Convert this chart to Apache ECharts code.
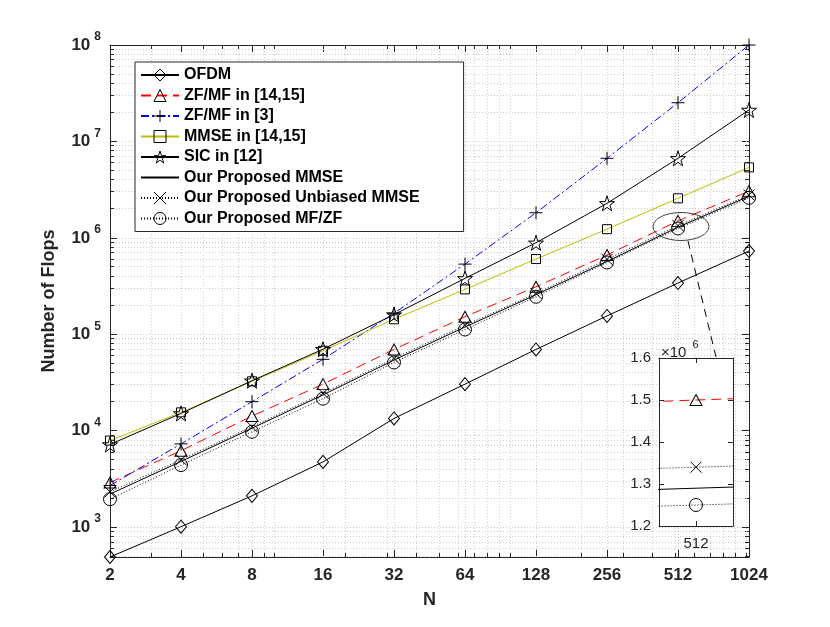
<!DOCTYPE html>
<html>
<head>
<meta charset="utf-8">
<title>Number of Flops</title>
<script src="https://cdn.jsdelivr.net/npm/echarts@6/dist/echarts.min.js"></script>
<style>
html, body { margin: 0; padding: 0; background: #fff; }
#chart { width: 830px; height: 627px; }
</style>
</head>
<body>
<div id="chart"></div>
<script>
// N on the x axis (log2 spaced)
const nValues = [2, 4, 8, 16, 32, 64, 128, 256, 512, 1024];

// flops
const ofdm         = [490, 1010, 2110, 4750, 13400, 30400, 69600, 155000, 340000, 730000];
const zfmf1415     = [2900, 6200, 14200, 30400, 69600, 152000, 311000, 664000, 1500000, 3050000];
const zfmf3        = [2700, 7300, 20000, 55000, 165000, 534000, 1820000, 6680000, 25200000, 100000000];
const mmse1415     = [7900, 15500, 32500, 67500, 143000, 292000, 603000, 1230000, 2570000, 5380000];
const sic12        = [7200, 15100, 33000, 70000, 160000, 380000, 889000, 2280000, 6680000, 21200000];
const ourMmse      = [2200, 4800, 10600, 23500, 54000, 119000, 257000, 570000, 1290000, 2700000];
const ourUnbiased  = [2320, 5000, 11000, 24400, 56200, 124000, 265000, 598000, 1340000, 2780000];
const ourMfzf      = [1950, 4400, 9750, 21500, 51000, 112000, 245000, 555000, 1250000, 2600000];

const legendNames = ['OFDM', 'ZF/MF in [14,15]', 'ZF/MF in [3]', 'MMSE in [14,15]', 'SIC in [12]',
  'Our Proposed MMSE', 'Our Proposed Unbiased MMSE', 'Our Proposed MF/ZF'];

// minor grid positions (matlab log10 minor ticks)
const xMinorTicks = [3, 5, 6, 7, 9, 10, 20, 30, 40, 50, 60, 70, 80, 90, 100, 200, 300, 400, 500, 600, 700, 800, 900, 1000];
const yMinorMantissa = [2, 3, 4, 5, 6, 7, 8, 9];
const yDecades = [2, 3, 4, 5, 6, 7];

// zoom inset range
const insetX = [511, 513];
const insetY = [1.2e6, 1.6e6];

const FONT = '"Liberation Sans", Arial, Helvetica, sans-serif';
const AX = '#262626';
const GRIDC = '#cdcdcd';

const yMin = ofdm[0];
const yMax = 1e8;

const yMinorTicks = [];
yDecades.forEach(d => yMinorMantissa.forEach(m => {
  const v = m * Math.pow(10, d);
  if (v > yMin && v < yMax) yMinorTicks.push(v);
}));

const starPath = 'path://M50,0L61.8,35.1L97.6,35.1L68.8,56.7L79.4,90.5L50,69.7L20.6,90.5L31.2,56.7L2.4,35.1L38.2,35.1Z';
const plusPath = 'path://M5,0L5,10M0,5L10,5';
const crossPath = 'path://M0,0L10,10M10,0L0,10';

const styles = {
  'OFDM':                       { color: '#000', type: 'solid', symbol: 'diamond', size: [11, 13] },
  'ZF/MF in [14,15]':           { color: '#ff0000', type: [10, 6], symbol: 'triangle', size: [12, 11] },
  'ZF/MF in [3]':               { color: '#0000ff', type: [8, 3, 2, 3], symbol: plusPath, size: 13 },
  'MMSE in [14,15]':            { color: '#bfbf00', type: 'solid', symbol: 'rect', size: 9 },
  'SIC in [12]':                { color: '#000', type: 'solid', symbol: starPath, size: 15 },
  'Our Proposed MMSE':          { color: '#000', type: 'solid', symbol: 'none', size: 0 },
  'Our Proposed Unbiased MMSE': { color: '#000', type: [1, 2], symbol: crossPath, size: 11 },
  'Our Proposed MF/ZF':         { color: '#000', type: [1, 2], symbol: 'circle', size: 13 }
};

const hollow = { color: 'rgba(0,0,0,0)', borderColor: '#000', borderWidth: 1 };
const noMark = { color: 'rgba(0,0,0,0)', borderColor: 'rgba(0,0,0,0)', borderWidth: 0 };

function makeSeries(name, values, xi, yi, inset) {
  const s = styles[name];
  return {
    name: name,
    type: 'line',
    xAxisIndex: xi,
    yAxisIndex: yi,
    data: nValues.map((n, i) => [n, values[i]]),
    symbol: s.symbol,
    symbolSize: s.size,
    showSymbol: s.symbol !== 'none',
    clip: inset,
    z: inset ? 12 : 3,
    lineStyle: { color: s.color, width: 1, type: s.type },
    itemStyle: hollow,
    emphasis: { disabled: true },
    silent: true
  };
}

const mainSeries = [
  makeSeries('OFDM', ofdm, 0, 0, false),
  makeSeries('ZF/MF in [14,15]', zfmf1415, 0, 0, false),
  makeSeries('ZF/MF in [3]', zfmf3, 0, 0, false),
  makeSeries('MMSE in [14,15]', mmse1415, 0, 0, false),
  makeSeries('SIC in [12]', sic12, 0, 0, false),
  makeSeries('Our Proposed MMSE', ourMmse, 0, 0, false),
  makeSeries('Our Proposed Unbiased MMSE', ourUnbiased, 0, 0, false),
  makeSeries('Our Proposed MF/ZF', ourMfzf, 0, 0, false)
];

const insetSeries = [
  makeSeries('ZF/MF in [14,15]', zfmf1415, 2, 2, true),
  makeSeries('Our Proposed MMSE', ourMmse, 2, 2, true),
  makeSeries('Our Proposed Unbiased MMSE', ourUnbiased, 2, 2, true),
  makeSeries('Our Proposed MF/ZF', ourMfzf, 2, 2, true)
];

function crisp(v) { return Math.round(v - 0.5) + 0.5; }

const minorYSeries = {
  type: 'custom',
  xAxisIndex: 0, yAxisIndex: 0,
  silent: true, z: 1,
  data: yMinorTicks.map(v => [nValues[0], v]),
  renderItem: function (params, api) {
    const cs = params.coordSys;
    const y = crisp(api.coord([nValues[0], api.value(1)])[1]);
    return { type: 'group', children: [
      { type: 'line', shape: { x1: cs.x, y1: y, x2: cs.x + cs.width, y2: y }, style: { stroke: GRIDC, lineWidth: 1, lineDash: [1, 2] } },
      { type: 'line', shape: { x1: cs.x, y1: y, x2: cs.x + 4, y2: y }, style: { stroke: AX, lineWidth: 1 } },
      { type: 'line', shape: { x1: cs.x + cs.width - 4, y1: y, x2: cs.x + cs.width, y2: y }, style: { stroke: AX, lineWidth: 1 } }
    ] };
  }
};

const minorXSeries = {
  type: 'custom',
  xAxisIndex: 0, yAxisIndex: 0,
  silent: true, z: 1,
  data: xMinorTicks.map(v => [v, yMin]),
  renderItem: function (params, api) {
    const cs = params.coordSys;
    const x = crisp(api.coord([api.value(0), yMin])[0]);
    return { type: 'group', children: [
      { type: 'line', shape: { x1: x, y1: cs.y, x2: x, y2: cs.y + cs.height }, style: { stroke: GRIDC, lineWidth: 1, lineDash: [1, 2] } },
      { type: 'line', shape: { x1: x, y1: cs.y + cs.height - 4, x2: x, y2: cs.y + cs.height }, style: { stroke: AX, lineWidth: 1 } },
      { type: 'line', shape: { x1: x, y1: cs.y, x2: x, y2: cs.y + 4 }, style: { stroke: AX, lineWidth: 1 } }
    ] };
  }
};

function yPowLabel(v) {
  const e = Math.log10(v);
  const r = Math.round(e);
  return Math.abs(e - r) < 1e-6 ? '{b|10}{s|' + r + '}' : '';
}

const chart = echarts.init(document.getElementById('chart'), null, { renderer: 'canvas' });

chart.setOption({
  animation: false,
  backgroundColor: '#fff',
  textStyle: { fontFamily: FONT },
  grid: [
    { left: 110, top: 45, right: 81, bottom: 70 },
    { left: 659, top: 358, width: 74, height: 168 }
  ],
  xAxis: [
    {
      type: 'log', logBase: 2, gridIndex: 0, min: nValues[0], max: nValues[nValues.length - 1], splitNumber: 9,
      name: 'N', nameLocation: 'middle', nameGap: 34,
      nameTextStyle: { fontFamily: FONT, fontSize: 18, fontWeight: 'bold', color: AX },
      axisLine: { lineStyle: { color: AX, width: 1 } },
      axisTick: { inside: true, length: 7, lineStyle: { color: AX } },
      axisLabel: { fontFamily: FONT, fontSize: 17, fontWeight: 'bold', color: AX, margin: 10, formatter: v => String(Math.round(v)) },
      splitLine: { show: true, lineStyle: { color: GRIDC, type: [1, 2] } },
      minorTick: { show: false }
    },
    {
      type: 'log', logBase: 2, gridIndex: 0, position: 'top', min: nValues[0], max: nValues[nValues.length - 1], splitNumber: 9,
      axisLine: { lineStyle: { color: AX, width: 1 } },
      axisTick: { inside: true, length: 7, lineStyle: { color: AX } },
      axisLabel: { show: false },
      splitLine: { show: false }
    },
    {
      type: 'value', gridIndex: 1, min: insetX[0], max: insetX[1], interval: 1, z: 10,
      axisLine: { lineStyle: { color: AX, width: 1 } },
      axisTick: { inside: true, length: 5, lineStyle: { color: AX } },
      axisLabel: { fontFamily: FONT, fontSize: 15, color: AX, margin: 10, formatter: v => (v === 512 ? '512' : '') },
      splitLine: { show: false }
    },
    {
      type: 'value', gridIndex: 1, position: 'top', min: insetX[0], max: insetX[1], interval: 1, z: 10,
      axisLine: { lineStyle: { color: AX, width: 1 } },
      axisTick: { inside: true, length: 5, lineStyle: { color: AX } },
      axisLabel: { show: false },
      splitLine: { show: false }
    }
  ],
  yAxis: [
    {
      type: 'log', logBase: 10, gridIndex: 0, min: yMin, max: yMax, splitNumber: 5,
      name: 'Number of Flops', nameLocation: 'middle', nameGap: 52,
      nameTextStyle: { fontFamily: FONT, fontSize: 18, fontWeight: 'bold', color: AX },
      axisLine: { lineStyle: { color: AX, width: 1 } },
      axisTick: { inside: true, length: 7, lineStyle: { color: AX } },
      axisLabel: {
        margin: 9, formatter: yPowLabel,
        rich: {
          b: { fontFamily: FONT, fontSize: 17, fontWeight: 'bold', color: AX },
          s: { fontFamily: FONT, fontSize: 12, fontWeight: 'bold', color: AX, padding: [0, 0, 16, 4] }
        }
      },
      splitLine: { show: true, lineStyle: { color: GRIDC, type: [1, 2] } }
    },
    {
      type: 'log', logBase: 10, gridIndex: 0, position: 'right', min: yMin, max: yMax, splitNumber: 5,
      axisLine: { lineStyle: { color: AX, width: 1 } },
      axisTick: { inside: true, length: 7, lineStyle: { color: AX } },
      axisLabel: { show: false },
      splitLine: { show: false }
    },
    {
      type: 'value', gridIndex: 1, min: insetY[0], max: insetY[1], interval: 1e5, z: 10,
      axisLine: { lineStyle: { color: AX, width: 1 } },
      axisTick: { inside: true, length: 5, lineStyle: { color: AX } },
      axisLabel: { fontFamily: FONT, fontSize: 15, color: AX, margin: 8, formatter: v => (v / 1e6).toFixed(1) },
      splitLine: { show: false }
    },
    {
      type: 'value', gridIndex: 1, position: 'right', min: insetY[0], max: insetY[1], interval: 1e5, z: 10,
      axisLine: { lineStyle: { color: AX, width: 1 } },
      axisTick: { inside: true, length: 5, lineStyle: { color: AX } },
      axisLabel: { show: false },
      splitLine: { show: false }
    }
  ],
  legend: {
    data: legendNames.map(n => ({ name: n, itemStyle: styles[n].symbol === 'none' ? noMark : hollow })),
    orient: 'vertical',
    left: 135, top: 62,
    itemWidth: 38, itemHeight: 15, itemGap: 4.5,
    padding: [5, 44, 5, 5],
    backgroundColor: '#fff',
    borderColor: AX, borderWidth: 1, borderRadius: 0,
    selectedMode: false,
    textStyle: { fontFamily: FONT, fontSize: 16, fontWeight: 'bold', color: '#000' }
  },
  graphic: [
    { type: 'rect', z: 5, silent: true, shape: { x: 659, y: 358, width: 74, height: 168 }, style: { fill: '#fff' } },
    { type: 'circle', z: 4, silent: true, x: 681, y: 226.5, scaleY: 0.5, shape: { cx: 0, cy: 0, r: 28 },
      style: { fill: 'none', stroke: '#000', lineWidth: 1, strokeNoScale: true } },
    { type: 'line', z: 4, silent: true, shape: { x1: 688, y1: 241, x2: 716, y2: 357 },
      style: { stroke: '#000', lineWidth: 1, lineDash: [8, 6] } },
    { type: 'text', z: 11, silent: true, x: 661, y: 336,
      style: { text: '{a|\u00d710}{s|6}', rich: {
        a: { fontFamily: FONT, fontSize: 15, fill: AX, padding: [9, 0, 0, 0] },
        s: { fontFamily: FONT, fontSize: 11, fill: AX, padding: [0, 0, 6, 6] }
      } } }
  ],
  series: [minorYSeries, minorXSeries].concat(mainSeries, insetSeries)
});
</script>
</body>
</html>
